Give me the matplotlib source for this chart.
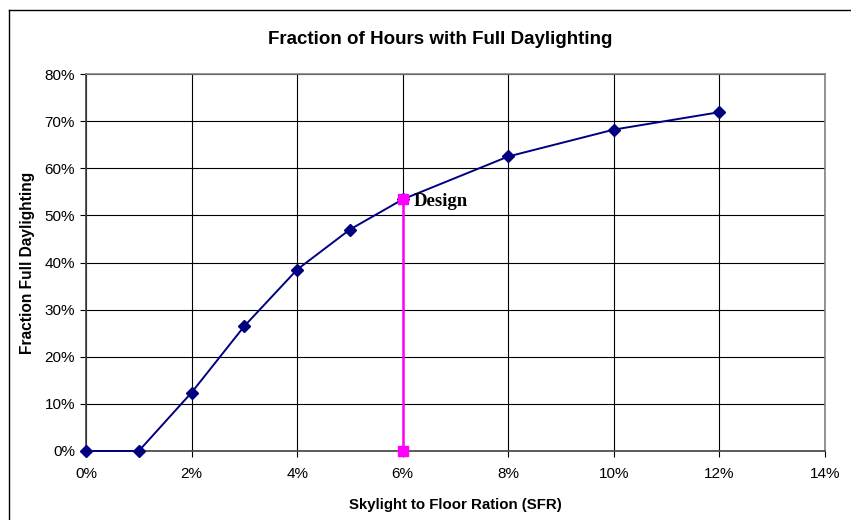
import matplotlib
matplotlib.use("Agg")
import matplotlib.pyplot as plt
from matplotlib.ticker import FuncFormatter
from matplotlib.lines import Line2D

sfr = [0, 1, 2, 3, 4, 5, 6, 8, 10, 12]
frac = [0, 0, 12.4, 26.5, 38.5, 47.0, 53.4, 62.5, 68.2, 71.9]
design_x = [6, 6]
design_y = [0, 53.4]
xticks = [0, 2, 4, 6, 8, 10, 12, 14]
yticks = [0, 10, 20, 30, 40, 50, 60, 70, 80]

plt.rcParams['font.family'] = ['Liberation Sans', 'DejaVu Sans']

fig = plt.figure(figsize=(8.51, 5.2), dpi=100)
ax = fig.add_axes([86/851, 1-451/520, (825-86)/851, (451-74)/520])

ax.set_xlim(0, 14)
ax.set_ylim(0, 80)
ax.set_xticks(xticks)
ax.set_yticks(yticks)
ax.xaxis.set_major_formatter(FuncFormatter(lambda v, p: f"{v:.0f}%"))
ax.yaxis.set_major_formatter(FuncFormatter(lambda v, p: f"{v:.0f}%"))
ax.grid(True, color='black', linewidth=0.8)
ax.set_axisbelow(True)
ax.tick_params(direction='out', length=4, width=0.8, labelsize=11)
ax.tick_params(axis='x', pad=7.5)
ax.tick_params(axis='y', pad=4)
for s in ['top', 'right']:
    ax.spines[s].set_color('#808080')
    ax.spines[s].set_linewidth(1.2)
for s in ['left', 'bottom']:
    ax.spines[s].set_color('#404040')
    ax.spines[s].set_linewidth(1.2)

ax.plot(sfr, frac, color='#000080', linewidth=1.4, marker='D', markersize=6,
        markerfacecolor='#000080', markeredgecolor='#000080', zorder=4, clip_on=False)
ax.plot(design_x, design_y, color='#FF00FF', linewidth=1.8, marker='s', markersize=7,
        markerfacecolor='#FF00FF', markeredgecolor='#FF00FF', zorder=5, clip_on=False)
ax.text(design_x[1] + 0.2, design_y[1] - 0.4, 'Design', family=['Liberation Serif'],
        fontweight='bold', fontsize=13.5, va='center', ha='left', zorder=6)

fig.text(440/851, 1-40/520, 'Fraction of Hours with Full Daylighting', fontsize=13.5,
         fontweight='bold', ha='center', va='center')
ax.set_xlabel('Skylight to Floor Ration (SFR)', fontsize=10.8, fontweight='bold', labelpad=12)
ax.set_ylabel('Fraction Full Daylighting', fontsize=11.2, fontweight='bold', labelpad=7)

# figure frame (left and top edges)
fig.add_artist(Line2D([9/851, 9/851], [0, 1-10/520], transform=fig.transFigure, color='black', linewidth=1))
fig.add_artist(Line2D([9/851, 1], [1-10/520, 1-10/520], transform=fig.transFigure, color='black', linewidth=1))

fig.savefig('out.png', dpi=100)
